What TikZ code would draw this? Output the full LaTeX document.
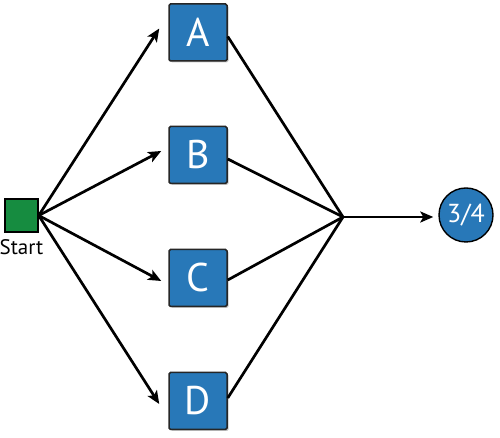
\documentclass[tikz,border=0pt]{standalone}
\usepackage{fontspec}
\setmainfont{PT Sans}
\usetikzlibrary{arrows.meta,shadows,calc}
\definecolor{boxblue}{RGB}{40,120,184}
\definecolor{startgreen}{RGB}{22,140,64}
\begin{document}
\begin{tikzpicture}[x=1pt,y=1pt,
  letterbox/.style={draw=black!85,line width=1.5pt,fill=boxblue,rounded corners=1.5pt,
    minimum width=58pt,minimum height=57pt,inner sep=0pt,text=white,
    font=\fontsize{40}{40}\selectfont,
    drop shadow={shadow xshift=1.5pt,shadow yshift=-1.5pt,opacity=0.45}},
  startbox/.style={draw=black,line width=1.4pt,fill=startgreen,minimum size=33pt,inner sep=0pt},
  goal/.style={circle,draw=black,line width=1.4pt,fill=boxblue,minimum size=54pt,inner sep=0pt,
    text=white,font=\fontsize{26}{26}\selectfont},
  flow/.style={line width=2.7pt},
  arrowline/.style={flow,-{Stealth[length=13pt,width=11pt,inset=3pt]}}]
\useasboundingbox (0,0) rectangle (500,438);
\node[startbox] (S) at (21.5,222.5) {};
\node[font=\fontsize{21}{21}\selectfont,anchor=north,inner sep=0pt] (SL) at (21.5,199) {\strut Start};
\node[letterbox] (A) at (198,405.5) {A};
\node[letterbox] (B) at (198,283) {B};
\node[letterbox] (C) at (198,160) {C};
\node[letterbox] (D) at (198,37) {D};
\coordinate (M) at (343,221);
\node[goal] (G) at (466,223) {3/4};
\draw[arrowline] (S.east) -- ($(A.west)+(-9,4)$);
\draw[arrowline] (S.east) -- ($(B.west)+(-7,4)$);
\draw[arrowline] (S.east) -- ($(C.west)+(-7,-3)$);
\draw[arrowline] (S.east) -- ($(D.west)+(-9,-3)$);
\draw[flow] ($(A.east)+(0,-4)$) -- (M);
\draw[flow] ($(B.east)+(0,-4)$) -- (M);
\draw[flow] ($(C.east)+(0,-2)$) -- (M);
\draw[flow] ($(D.east)+(0,3)$) -- (M);
\draw[arrowline,shorten >=5pt] (M) -- (G.west |- M);
\end{tikzpicture}
\end{document}
